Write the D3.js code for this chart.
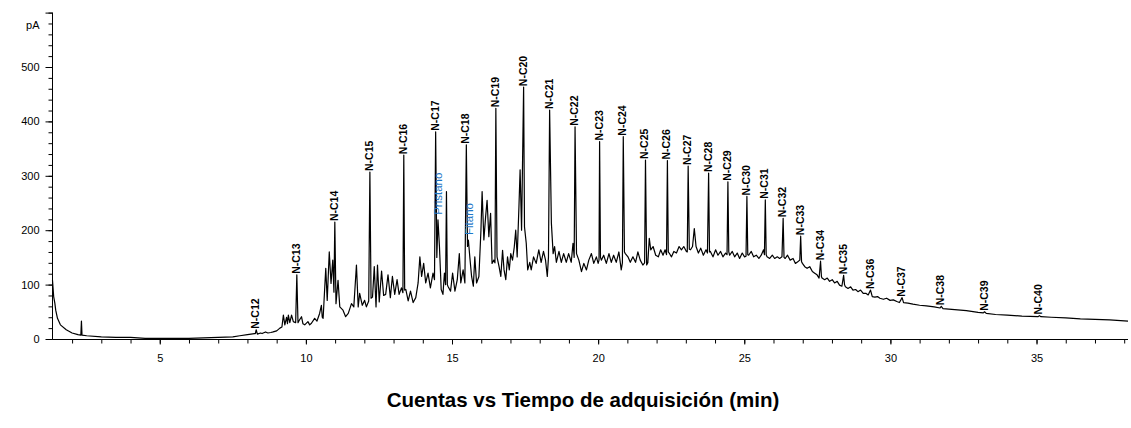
<!DOCTYPE html>
<html><head><meta charset="utf-8">
<script src="https://cdn.jsdelivr.net/npm/d3@7"></script>
<style>
html,body{margin:0;padding:0;background:#fff;}
svg{display:block;font-family:"Liberation Sans",Arial,sans-serif;}
</style></head>
<body><svg id="c" width="1131" height="428"></svg>
<script>
// ---- data (time in min, signal in pA) ----
const peakLabels = ["N-C12","N-C13","N-C14","N-C15","N-C16","N-C17","N-C18","N-C19","N-C20","N-C21","N-C22","N-C23","N-C24","N-C25","N-C26","N-C27","N-C28","N-C29","N-C30","N-C31","N-C32","N-C33","N-C34","N-C35","N-C36","N-C37","N-C38","N-C39","N-C40"];
const peakTimes = [8.30,9.69,10.99,12.19,13.35,14.44,15.49,16.50,17.45,18.34,19.21,20.05,20.86,21.62,22.37,23.08,23.78,24.44,25.09,25.72,26.33,26.93,27.61,28.40,29.32,30.40,31.74,33.22,35.10];
const peakHeights = [17,118,215,307,338,381,357,424,463,421,390,363,372,329,328,318,305,289,262,256,222,189,143,117,90,76,60,50,43];

const markerLabels = ["Pristano","Fitano"];
const markerTimes = [14.52,15.56];
const markerHeights = [219,182];

const traceEarly = [[1.33,108],[1.37,78],[1.41,66],[1.44,53],[1.5,38],[1.6,26],[1.8,17],[2.0,11],[2.2,8],[2.30,7],[2.32,33],[2.34,7],[2.5,6],[3.0,4],[3.5,3],[4.0,3],[4.5,1],[5.0,1],[5.5,1],[6.0,1],[6.5,2],[7.0,3],[7.5,4],[7.74,6],[8.0,8],[8.24,10],[8.27,10],
 [8.34,9],[8.45,11],[8.5,10],[8.62,13],[8.7,11],[8.8,12],[8.88,13],[9.0,15],[9.11,20],[9.18,22],[9.23,44],[9.28,26],[9.34,40],[9.37,28],[9.40,44],[9.45,30],[9.51,44],[9.57,32],[9.65,30],
 [9.73,30],[9.77,34],[9.85,41],[9.9,28],[9.96,26],[10.07,32],[10.13,26],[10.19,29],[10.30,38],[10.38,33],[10.47,47],[10.53,62],[10.56,40],[10.59,38],[10.68,130],[10.73,71],[10.80,160],[10.86,102],[10.92,145],[10.96,86],
 [11.03,65],[11.10,108],[11.16,59],[11.27,53],[11.36,41],[11.45,47],[11.56,65],[11.64,59],[11.73,136],[11.79,59],[11.84,84],[11.93,62],[12.01,71],[12.07,59],[12.15,70],
 [12.23,75],[12.28,77],[12.34,133],[12.40,59],[12.45,136],[12.51,68],[12.59,125],[12.66,80],[12.73,82],[12.81,118],[12.89,76],[12.96,115],[13.04,82],[13.12,109],[13.19,82],[13.27,94],[13.32,85]];

const traceMiddle = [[13.38,90],[13.42,91],[13.50,70],[13.58,88],[13.67,67],[13.76,76],[13.84,103],[13.90,151],[13.96,115],[14.03,139],[14.10,103],[14.18,121],[14.26,94],[14.35,121],[14.40,109],
 [14.48,150],[14.57,170],[14.63,91],[14.69,82],[14.74,121],[14.78,100],[14.81,271],[14.84,100],[14.86,97],[14.95,88],[15.02,121],[15.10,88],[15.18,109],[15.25,157],[15.30,103],[15.38,127],[15.44,103],
 [15.53,170],[15.61,150],[15.67,115],[15.73,97],[15.78,151],[15.84,103],[15.92,115],[15.99,200],[16.03,271],[16.09,182],[16.15,225],[16.20,255],[16.26,188],[16.32,231],[16.37,139],[16.43,145],[16.47,140],
 [16.54,151],[16.61,133],[16.67,115],[16.73,163],[16.78,127],[16.84,109],[16.90,151],[16.96,127],[17.01,157],[17.07,145],[17.13,169],[17.18,200],[17.23,151],[17.29,243],[17.33,311],[17.38,200],
 [17.48,206],[17.54,176],[17.59,127],[17.66,141],[17.71,127],[17.79,151],[17.88,139],[17.97,164],[18.05,141],[18.13,161],[18.20,145],[18.26,115],[18.30,150],
 [18.40,213],[18.46,157],[18.51,170],[18.57,141],[18.66,161],[18.74,141],[18.82,157],[18.91,141],[18.99,157],[19.08,141],[19.14,176],[19.18,150],
 [19.26,157],[19.34,145],[19.43,124],[19.51,139],[19.60,127],[19.68,145],[19.77,157],[19.85,139],[19.94,151],[20.0,139],[20.03,145],
 [20.08,150],[20.11,145],[20.19,154],[20.28,139],[20.37,157],[20.45,141],[20.53,154],[20.62,141],[20.71,160],[20.79,127],[20.83,140],
 [20.90,160],[20.93,157],[21.02,151],[21.10,141],[21.19,151],[21.28,141],[21.36,160],[21.44,145],[21.53,136],[21.59,140]];

const traceLate = [[21.66,136],[21.70,140],[21.75,185],[21.80,164],[21.88,170],[21.97,154],[22.06,151],[22.14,164],[22.22,154],[22.29,164],[22.34,155],
 [22.40,160],[22.43,158],[22.51,151],[22.59,161],[22.68,158],[22.77,170],[22.85,164],[22.93,170],[23.02,161],[23.05,160],
 [23.12,165],[23.16,164],[23.23,170],[23.29,203],[23.35,170],[23.43,158],[23.51,167],[23.60,154],[23.69,164],[23.74,158],
 [23.81,160],[23.84,161],[23.93,151],[24.02,164],[24.10,154],[24.19,161],[24.27,151],[24.36,158],[24.41,155],
 [24.47,160],[24.50,154],[24.59,161],[24.67,151],[24.76,158],[24.84,148],[24.93,158],[25.01,151],[25.06,152],
 [25.12,155],[25.15,154],[25.24,161],[25.32,151],[25.41,154],[25.50,148],[25.58,154],[25.66,164],[25.69,155],
 [25.75,155],[25.78,151],[25.87,148],[25.96,154],[26.04,148],[26.13,151],[26.21,148],[26.29,151],
 [26.36,150],[26.40,148],[26.48,154],[26.57,145],[26.67,148],[26.75,139],[26.83,142],[26.90,145],
 [26.96,142],[26.99,139],[27.07,133],[27.15,130],[27.24,133],[27.33,124],[27.41,121],[27.49,118],[27.56,112],
 [27.64,115],[27.66,112],[27.75,109],[27.84,112],[27.92,106],[28.01,109],[28.09,103],[28.18,106],[28.26,99],[28.34,97],
 [28.43,100],[28.46,96],[28.55,93],[28.64,96],[28.72,90],[28.81,91],[28.89,87],[28.98,90],[29.07,84],[29.16,84],[29.24,81],
 [29.38,78],[29.47,77],[29.56,78],[29.64,75],[29.76,73],[29.87,75],[29.99,71],[30.10,72],[30.22,69],[30.31,67],
 [30.45,67],[30.60,66],[30.77,64],[31.0,62],[31.23,61],[31.5,59],[31.70,57],[31.80,56],[32.2,54],[32.6,52],[33.0,49],[33.18,48],
 [33.28,47],[33.6,45],[34.0,44],[34.5,42],[35.05,41],[35.15,41],[35.5,40],[36.0,39],[36.5,37],[37.0,36],[37.5,35],[38.13,33]];

const xTickValues = [5,10,15,20,25,30,35];
const yTickValues = [0,100,200,300,400,500];
const yUnit = "pA";
const chartTitle = "Cuentas vs Tiempo de adquisición (min)";

// ---- drawing ----
const svg = d3.select("#c");
const x = d3.scaleLinear().domain([1.33, 38.13]).range([52.5, 1128]);
const y = d3.scaleLinear().domain([0, 600]).range([339, 12.6]);

const trace = traceEarly.concat(traceMiddle, traceLate,
  peakTimes.map((t,i)=>[t, peakHeights[i]]),
  markerTimes.map((t,i)=>[t, markerHeights[i]])
).sort((a,b)=>a[0]-b[0]);

// axes
const gx = svg.append("g").attr("transform","translate(0,339.5)");
gx.call(d3.axisBottom(x).tickValues(d3.range(2,39,1)).tickSize(4).tickFormat(""));
gx.call(g=>g.selectAll(".tick line").attr("stroke","#000"));
const gx2 = svg.append("g").attr("transform","translate(0,339.5)");
gx2.call(d3.axisBottom(x).tickValues(xTickValues).tickSize(5).tickPadding(10).tickFormat(d3.format("d")));
gx2.select(".domain").remove();

const gy = svg.append("g").attr("transform","translate(52.5,0)");
gy.call(d3.axisLeft(y).tickValues(d3.range(0,601,20)).tickSize(4).tickFormat(""));
const gy2 = svg.append("g").attr("transform","translate(52.5,0)");
gy2.call(d3.axisLeft(y).tickValues(yTickValues.concat([600])).tickSize(7).tickPadding(6)
  .tickFormat(d=> yTickValues.includes(d) ? d : ""));
gy2.select(".domain").remove();

[gx,gx2,gy,gy2].forEach(g=>{
  g.select(".domain").attr("stroke","#000").attr("d", null);
  g.selectAll("text").attr("font-family","Liberation Sans, Arial, sans-serif").attr("font-size",11).attr("fill","#000");
});
// axis lines
svg.append("line").attr("x1",52.5).attr("x2",1128).attr("y1",339.5).attr("y2",339.5).attr("stroke","#000");
svg.append("line").attr("x1",52.5).attr("x2",52.5).attr("y1",y(600)).attr("y2",339.5).attr("stroke","#000");
gx.select(".domain").remove(); gy.select(".domain").remove();

svg.append("text").attr("x",39.5).attr("y",29).attr("text-anchor","end")
  .attr("font-size",11).text(yUnit);

// trace
svg.append("path").datum(trace)
  .attr("fill","none").attr("stroke","#000").attr("stroke-width",1.2).attr("stroke-linejoin","round")
  .attr("d", d3.line().x(d=>x(d[0])).y(d=>y(d[1])));

// peak labels
svg.append("g").selectAll("text").data(peakLabels).join("text")
  .attr("transform",(d,i)=>`translate(${x(peakTimes[i])+3},${y(peakHeights[i])-1}) rotate(-90)`)
  .attr("font-size",10.5).attr("font-weight","bold").attr("fill","#000")
  .text(d=>d);

svg.append("g").selectAll("text").data(markerLabels).join("text")
  .attr("transform",(d,i)=>`translate(${x(markerTimes[i])+4.5},${y(markerHeights[i])-5}) rotate(-90)`)
  .attr("font-size",11.5).attr("fill","#1f78c8")
  .text(d=>d);

// title
svg.append("text").attr("x",583).attr("y",407).attr("text-anchor","middle")
  .attr("font-size",20.5).attr("font-weight","bold").attr("fill","#000").text(chartTitle);
</script>
</body></html>
